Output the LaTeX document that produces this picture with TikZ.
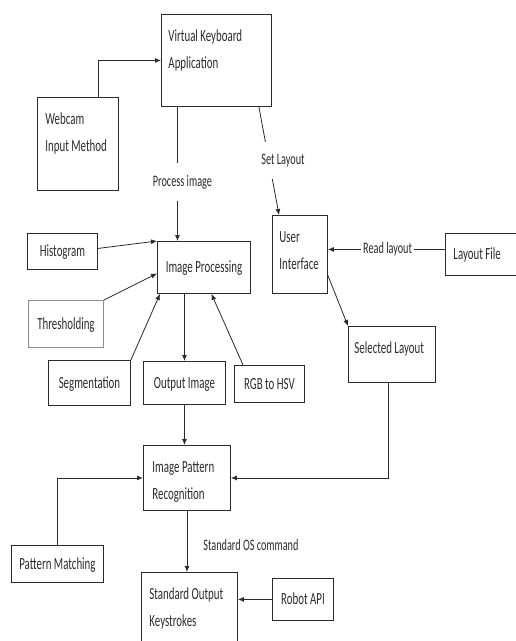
\documentclass[tikz,border=0pt]{standalone}
\usepackage{fontspec}
\setmainfont{Carlito}[FakeStretch=0.64]
\usetikzlibrary{arrows.meta}
\definecolor{ink}{HTML}{2B2B2B}
\definecolor{faint}{HTML}{8C8C8C}

\begin{document}
\begin{tikzpicture}[x=1pt,y=-1pt,
  font=\fontsize{17}{27}\selectfont,
  box/.style={draw=ink,line width=0.9pt,anchor=north west,inner sep=0pt,align=center,text=ink,text height=11pt,text depth=0pt},
  tbox/.style={box,align=flush left,inner xsep=7pt,text height=27.5pt},
  lbl/.style={fill=white,text=ink,inner xsep=2pt,inner ysep=12pt,font=\fontsize{16}{20}\selectfont},
  arr/.style={-{Latex[length=6pt,width=5pt]},line width=0.8pt,ink}]
  \useasboundingbox (0,0) rectangle (516,641);
  \node[tbox,text width=96pt,text depth=64.5pt] (vka) at (161,14) {Virtual Keyboard\\Application};
  \node[tbox,inner xsep=8pt,text width=65pt,text depth=65.5pt] (cam) at (37,97) {Webcam\\Input Method};
  \node[box,minimum width=70pt,minimum height=36pt] (hist) at (27,233) {Histogram};
  \node[box,minimum width=93pt,minimum height=52pt] (ip) at (157,241) {Image Processing};
  \node[box,draw=faint,minimum width=75pt,minimum height=47pt] (thr) at (28,300) {Thresholding};
  \node[box,minimum width=82pt,minimum height=45pt] (seg) at (48,360) {Segmentation};
  \node[box,minimum width=82pt,minimum height=43pt] (out) at (143,361) {Output Image};
  \node[box,minimum width=70pt,minimum height=37pt] (rgb) at (234,365) {RGB to HSV};
  \node[tbox,text width=41pt,text depth=50.5pt] (ui) at (272,215) {User\\Interface};
  \node[box,align=flush left,inner xsep=8pt,text width=64pt,minimum height=42pt] (lf) at (445,233) {Layout File};
  \node[tbox,inner xsep=6pt,text width=75pt,text depth=28.5pt] (sel) at (348,326) {Selected Layout};
  \node[tbox,inner xsep=9pt,text width=69pt,text depth=37.5pt] (ipr) at (143,445) {Image Pattern\\Recognition};
  \node[box,minimum width=92pt,minimum height=37pt] (pm) at (11,545) {Pattern Matching};
  \node[tbox,inner xsep=8pt,text width=80pt,text depth=52.5pt] (sok) at (141,572) {Standard Output\\Keystrokes};
  \node[box,minimum width=61pt,minimum height=42pt] (rob) at (272,578) {Robot API};
  % connectors
  \draw[arr] ([xshift=20pt]cam.north) |- (vka.west);
  \draw[arr] ([xshift=-39pt]vka.south) -- node[lbl,pos=0.56,xshift=5pt]{Process image} ([xshift=-39pt]vka.south |- ip.north);
  \draw[arr] ([xshift=-13pt]vka.south east) -- node[lbl,xshift=14pt]{Set Layout} ([xshift=7pt]ui.north west);
  \draw[arr] ([yshift=3pt]hist.east) -- (ip.north west);
  \draw[arr] (thr.north east) -- ([yshift=-6pt]ip.west);
  \draw[arr] (seg.north east) -- ([xshift=3pt]ip.south west);
  \draw[arr] (ip.south -| out.north) -- (out.north);
  \draw[arr] ([xshift=9pt]rgb.north west) -- ([xshift=7.5pt]ip.south);
  \draw[arr] ([yshift=5pt]lf.west) -- node[lbl,inner ysep=3pt,pos=0.49]{Read layout} ([yshift=5pt]ui.east);
  \draw[arr] ([yshift=-21pt]ui.east) -- (sel.north west);
  \draw[arr] ([xshift=-4pt]sel.south) |- (ipr.east);
  \draw[arr] (out.south) -- (out.south |- ipr.north);
  \draw[arr] (pm.north) |- (ipr.west);
  \draw[arr] (ipr.south) -- node[lbl,anchor=west,inner ysep=2pt,xshift=14pt,pos=0.55]{Standard OS command} (ipr.south |- sok.north);
  \draw[arr] (rob.west) -- (rob.west -| sok.east);
\end{tikzpicture}
\end{document}
